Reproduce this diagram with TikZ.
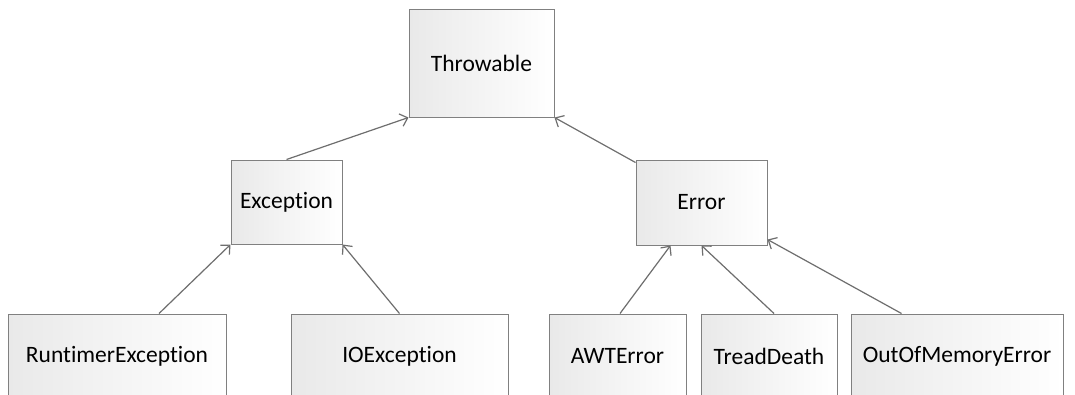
\documentclass[tikz,border=0pt]{standalone}
\usepackage{fontspec}
\setmainfont{Carlito}[Ligatures={NoCommon}]
\usetikzlibrary{arrows.meta,calc}
\definecolor{boxline}{HTML}{808080}
\definecolor{linkline}{HTML}{6E6E6E}
\definecolor{boxshade}{HTML}{E9E9E9}
\tikzset{
  cls/.style={draw=boxline, line width=1pt, left color=boxshade, right color=white,
    inner sep=0pt, font=\fontsize{23.5}{28}\selectfont, text=black},
  inherit/.style={draw=linkline, line width=1.2pt,
    -{Straight Barb[length=7pt,width=13pt,line width=1.2pt]}}
}
\begin{document}
\begin{tikzpicture}[x=1pt,y=-1pt]
  \clip (0,0) rectangle (1075,394);
  \fill[white] (0,0) rectangle (1075,394);

  % class boxes
  \node[cls, minimum width=145pt, minimum height=108pt] (thr) at (481.5,63) {Throwable};
  \node[cls, minimum width=111pt, minimum height=84pt] (exc) at (286.5,202) {Exception};
  \node[cls, minimum width=131pt, minimum height=85pt] (err) at (701.5,202.5) {Error};
  \node[cls, minimum width=218pt, minimum height=84pt] (rte) at (117,356) {RuntimerException};
  \node[cls, minimum width=217pt, minimum height=84pt] (ioe) at (399.5,356) {IOException};
  \node[cls, minimum width=137pt, minimum height=84pt] (awt) at (617.5,356) {AWTError};
  \node[cls, minimum width=136pt, minimum height=84pt] (tdd) at (769,356) {TreadDeath};
  \node[cls, minimum width=212pt, minimum height=84pt] (oom) at (957,356) {OutOfMemoryError};

  % inheritance links
  \draw[inherit] (exc.north) -- (thr.south west);
  \draw[inherit] ($(err.north west)+(0,3)$) -- (thr.south east);
  \draw[inherit] ($(rte.north)+(42,0)$) -- (exc.south west);
  \draw[inherit] (ioe.north) -- (exc.south east);
  \draw[inherit] ($(awt.north)+(2.5,0)$) -- ($(err.south west)+(35,0)$);
  \draw[inherit] ($(tdd.north)+(5,0)$) -- ($(err.south west)+(66,0)$);
  \draw[inherit] ($(oom.north west)+(51,0)$) -- ($(err.south east)+(0,-6)$);
\end{tikzpicture}
\end{document}
